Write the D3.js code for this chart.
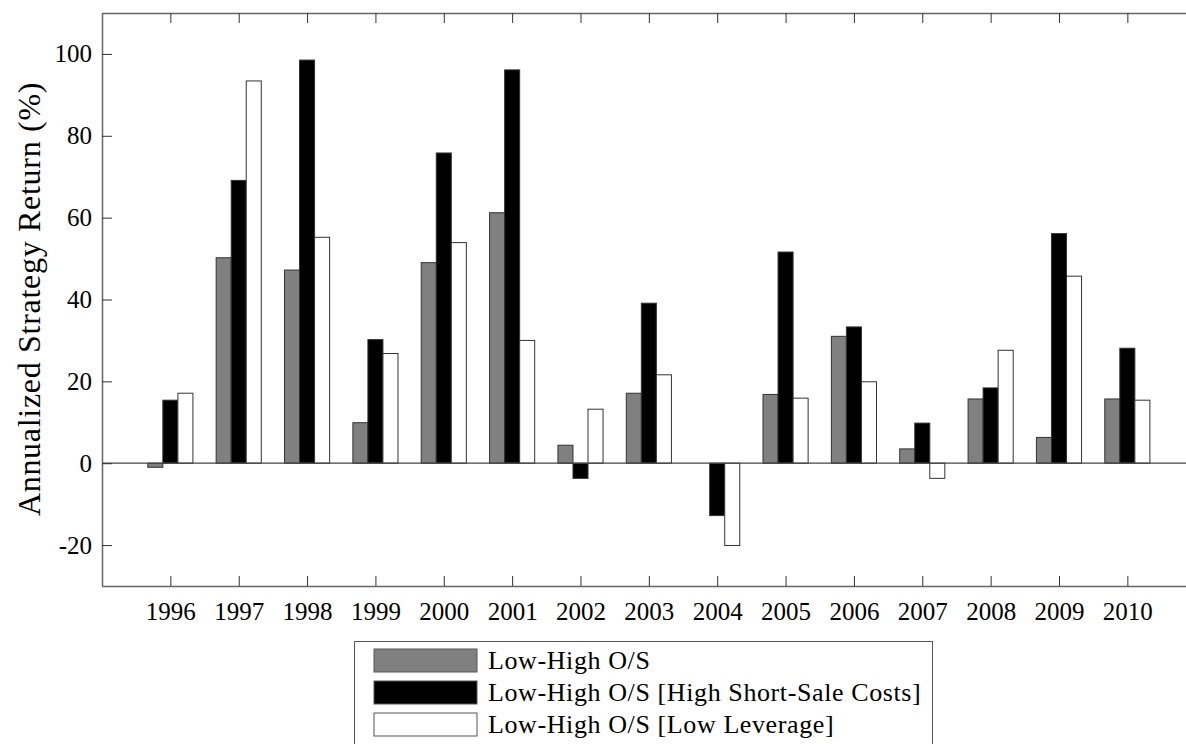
<!DOCTYPE html>
<html><head><meta charset="utf-8">
<script src="https://cdn.jsdelivr.net/npm/d3@7"></script>
<style>html,body{margin:0;padding:0;background:#fff;overflow:hidden}</style>
</head><body>
<svg id="chart" width="1186" height="744"></svg>
<script>
const years = [1996,1997,1998,1999,2000,2001,2002,2003,2004,2005,2006,2007,2008,2009,2010];
const lowHigh      = [-1.0, 50.2, 47.2,  9.9, 49.0, 61.2,  4.4, 17.1,   0.0, 16.8, 31.0, 3.5, 15.7,  6.3, 15.7];
const highShort    = [15.4, 69.1, 98.5, 30.2, 75.8, 96.1, -3.7, 39.1, -12.8, 51.6, 33.3, 9.8, 18.4, 56.1, 28.1];
const lowLeverage  = [17.1, 93.4, 55.2, 26.8, 53.9, 30.0, 13.2, 21.6, -20.1, 15.9, 19.9, -3.7, 27.6, 45.7, 15.4];
const seriesNames = ["Low-High O/S", "Low-High O/S [High Short-Sale Costs]", "Low-High O/S [Low Leverage]"];
const seriesFills = ["#808080", "#000000", "#ffffff"];
const yTicks = [-20, 0, 20, 40, 60, 80, 100];
const yLabel = "Annualized Strategy Return (%)";

const series = [lowHigh, highShort, lowLeverage];
const svg = d3.select("#chart");
const FONT = "'Liberation Serif','Times New Roman',serif";
const L = 102, T = 13, B = 586;
const x = d3.scaleLinear().domain([1995, 2011]).range([L, 1195.7]);
const y = d3.scaleLinear().domain([-30, 110]).range([B, T]);
const step = x(1) - x(0);
const bw = step * 0.22;

// bars
series.forEach((vals, si) => {
  svg.append("g").selectAll("rect").data(years.map((yr, i) => ({yr, v: vals[i]})))
    .join("rect")
    .attr("x", d => x(d.yr) + (si - 1.5) * bw)
    .attr("width", bw)
    .attr("y", d => y(Math.max(0, d.v)))
    .attr("height", d => Math.abs(y(d.v) - y(0)))
    .attr("fill", seriesFills[si])
    .attr("stroke", "#333")
    .attr("stroke-width", 1);
});

// zero line
svg.append("line").attr("x1", L).attr("x2", 1186).attr("y1", y(0)).attr("y2", y(0))
  .attr("stroke", "#444").attr("stroke-width", 1.2);

// axes
const fmt = d => String(d);
const yAxis = d3.axisLeft(y).tickValues(yTicks).tickSize(-10).tickPadding(20).tickFormat(fmt);
const gy = svg.append("g").attr("transform", `translate(${L},0)`).call(yAxis);
const xAxis = d3.axisBottom(x).tickValues(years).tickSize(-10).tickPadding(20).tickFormat(fmt);
const gx = svg.append("g").attr("transform", `translate(0,${B})`).call(xAxis);
const xTop = d3.axisTop(x).tickValues(years).tickSize(-10).tickFormat("");
const gt = svg.append("g").attr("transform", `translate(0,${T})`).call(xTop);
[gy, gx, gt].forEach(g => {
  g.attr("font-family", null);
  g.select(".domain").attr("stroke", "#666").attr("stroke-width", 1.5);
  g.selectAll(".tick line").attr("stroke", "#333");
  g.selectAll(".tick text").style("font-family", FONT).style("font-size", "25px").attr("fill", "#000");
});
gy.select(".domain").attr("d", `M0.5,${T}V${B}`);
gx.select(".domain").attr("d", `M${L},0.5H1186`);
gt.select(".domain").attr("d", `M${L},0.5H1186`);
gy.selectAll(".tick text").attr("x", -10);
gx.selectAll(".tick text").attr("y", 16);

// y label
svg.append("text")
  .attr("transform", `translate(40,${299}) rotate(-90)`)
  .attr("text-anchor", "middle")
  .style("font-family", FONT).style("font-size", "32px").style("letter-spacing", "0.7px")
  .text(yLabel);

// legend
const lg = svg.append("g");
lg.append("rect").attr("x", 354.5).attr("y", 641.5).attr("width", 578).attr("height", 120)
  .attr("fill", "#fff").attr("stroke", "#555").attr("stroke-width", 1);
seriesNames.forEach((n, i) => {
  const yy = 649 + i * 32;
  lg.append("rect").attr("x", 374).attr("y", yy).attr("width", 103).attr("height", 23)
    .attr("fill", seriesFills[i]).attr("stroke", "#555").attr("stroke-width", 1);
  lg.append("text").attr("x", 488).attr("y", yy + 20)
    .style("font-family", FONT).style("font-size", "26px").style("letter-spacing", "0.6px").text(n);
});
</script>
</body></html>
